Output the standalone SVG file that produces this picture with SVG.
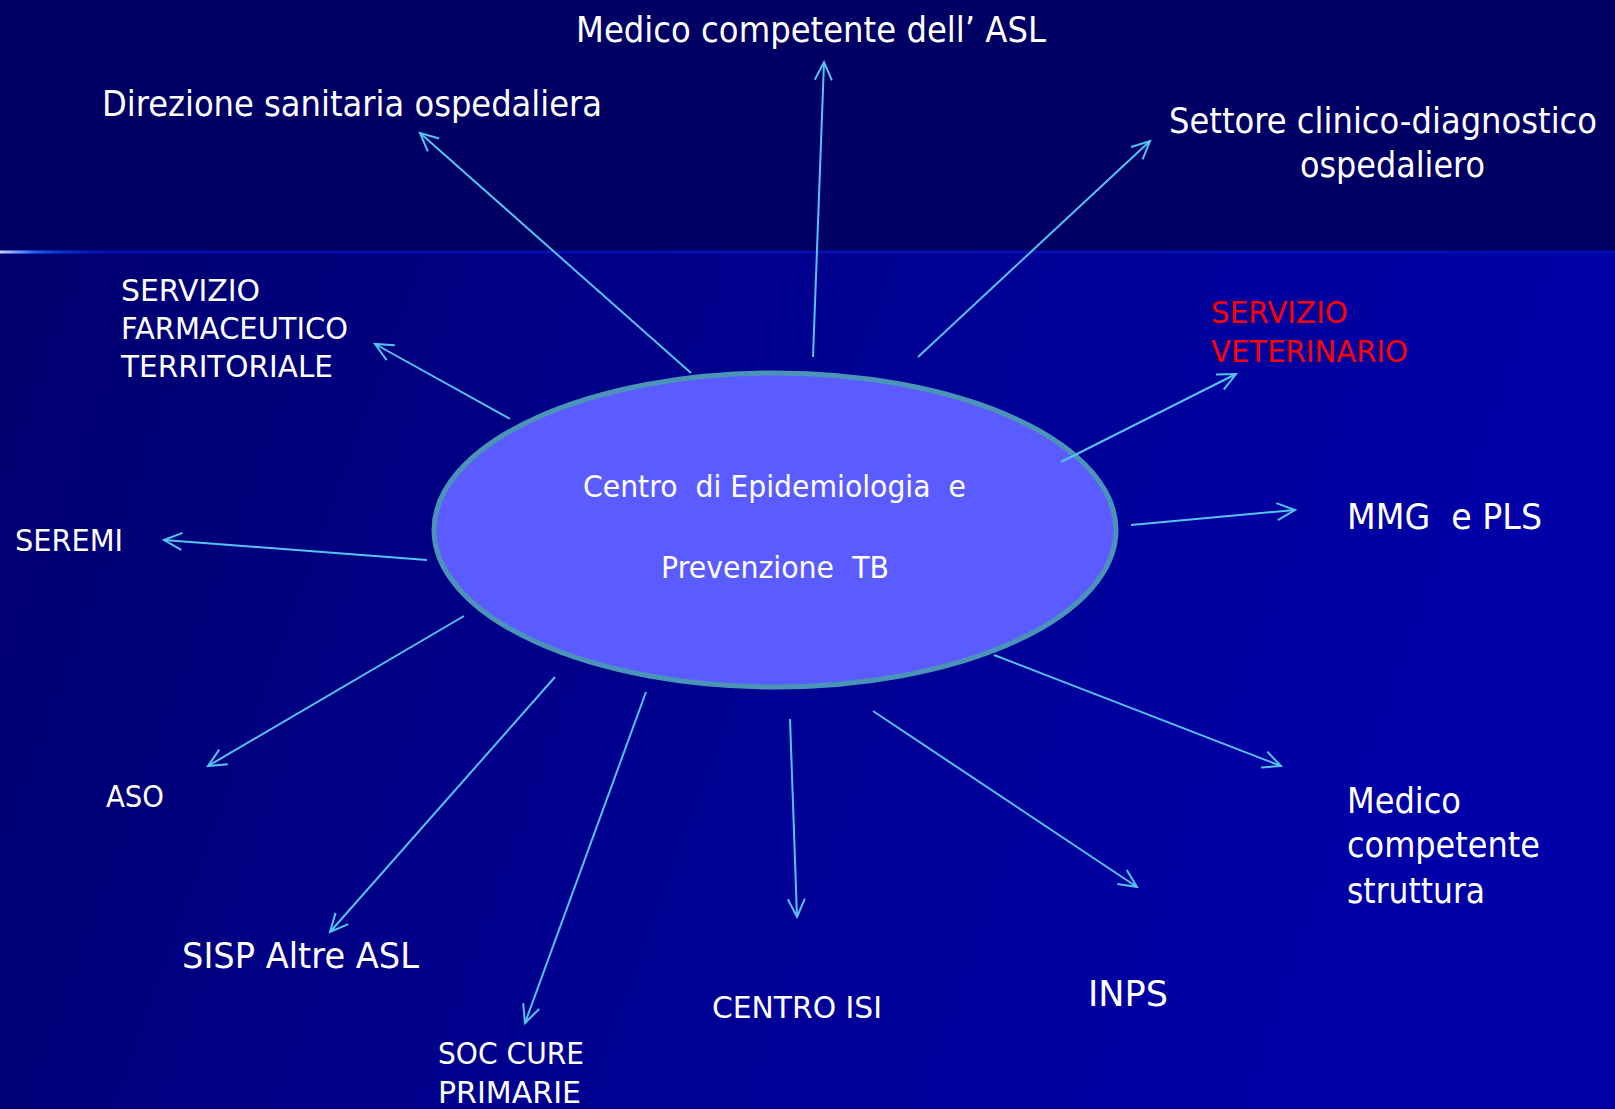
<svg xmlns="http://www.w3.org/2000/svg" width="1615" height="1109" viewBox="0 0 1615 1109">
  <defs>
    <linearGradient id="bgLow" x1="0" y1="0" x2="1" y2="0.25">
      <stop offset="0" stop-color="#00006a"/>
      <stop offset="0.45" stop-color="#00008a"/>
      <stop offset="1" stop-color="#0000a8"/>
    </linearGradient>
    <linearGradient id="glow" x1="0" y1="0" x2="1" y2="0">
      <stop offset="0" stop-color="#c8d4ff"/>
      <stop offset="0.25" stop-color="#3a78ff"/>
      <stop offset="0.3" stop-color="#1e5cf0"/>
      <stop offset="1" stop-color="#0010b0" stop-opacity="0"/>
    </linearGradient>
    <marker id="arrow" markerUnits="userSpaceOnUse" markerWidth="22" markerHeight="22" refX="19" refY="10" orient="auto">
      <path d="M1,1.5 L19,10 L1,18.5" fill="none" stroke="#55c3f2" stroke-width="2"/>
    </marker>
    <style>
      .t { fill: #ffffff; font-family: "DejaVu Sans", "Liberation Sans", sans-serif; white-space: pre; }
      .big { font-size: 36px; }
      .small { font-size: 30px; }
      .red { fill: #ff0000; }
      .conn { stroke: #55c3f2; stroke-width: 2; fill: none; marker-end: url(#arrow); }
    </style>
  </defs>

  <!-- background -->
  <rect x="0" y="0" width="1615" height="1109" fill="url(#bgLow)"/>
  <rect x="0" y="0" width="1615" height="251" fill="#000064"/>
  <rect x="0" y="250.5" width="1615" height="3" fill="#0010b0"/>
  <rect x="0" y="250.5" width="115" height="3" fill="url(#glow)"/>

  <!-- central node -->
  <g id="centro">
    <ellipse cx="775" cy="530" rx="341" ry="157" fill="#5b5cff" stroke="#4a94b8" stroke-width="5"/>
    <text class="t small" x="583" y="497" textLength="383" lengthAdjust="spacingAndGlyphs">Centro  di Epidemiologia  e</text>
    <text class="t small" x="661" y="578" textLength="228" lengthAdjust="spacingAndGlyphs">Prevenzione  TB</text>
  </g>

  <!-- connectors -->
  <g id="connectors">
    <line class="conn" x1="691" y1="373" x2="420" y2="133"/>
    <line class="conn" x1="813" y1="357" x2="824" y2="62"/>
    <line class="conn" x1="918" y1="357" x2="1150" y2="141"/>
    <line class="conn" x1="510" y1="419" x2="375" y2="344"/>
    <line class="conn" x1="1061" y1="462" x2="1236" y2="374"/>
    <line class="conn" x1="427" y1="560" x2="164" y2="540"/>
    <line class="conn" x1="1131" y1="525" x2="1295" y2="510"/>
    <line class="conn" x1="464" y1="616" x2="208" y2="766"/>
    <line class="conn" x1="994" y1="655" x2="1281" y2="766"/>
    <line class="conn" x1="555" y1="677" x2="330" y2="932"/>
    <line class="conn" x1="646" y1="692" x2="525" y2="1023"/>
    <line class="conn" x1="790" y1="719" x2="797" y2="917"/>
    <line class="conn" x1="873" y1="711" x2="1137" y2="887"/>
  </g>

  <g id="medico-asl">
    <text class="t big" x="576" y="42" textLength="470" lengthAdjust="spacingAndGlyphs">Medico competente dell’ ASL</text>
  </g>
  <g id="direzione">
    <text class="t big" x="102" y="116" textLength="500" lengthAdjust="spacingAndGlyphs">Direzione sanitaria ospedaliera</text>
  </g>
  <g id="settore">
    <text class="t big" transform="translate(1169,133) scale(0.87,1)" x="0" y="0" textLength="492" lengthAdjust="spacingAndGlyphs">Settore clinico-diagnostico</text>
    <text class="t big" x="1300" y="177" textLength="185" lengthAdjust="spacingAndGlyphs">ospedaliero</text>
  </g>
  <g id="farmaceutico">
    <text class="t small" x="121" y="301" textLength="139" lengthAdjust="spacingAndGlyphs">SERVIZIO</text>
    <text class="t small" x="121" y="339" textLength="227" lengthAdjust="spacingAndGlyphs">FARMACEUTICO</text>
    <text class="t small" x="121" y="377" textLength="212" lengthAdjust="spacingAndGlyphs">TERRITORIALE</text>
  </g>
  <g id="veterinario">
    <text class="t small red" x="1211" y="323" textLength="137" lengthAdjust="spacingAndGlyphs">SERVIZIO</text>
    <text class="t small red" x="1211" y="362" textLength="197" lengthAdjust="spacingAndGlyphs">VETERINARIO</text>
  </g>
  <g id="seremi">
    <text class="t small" x="15" y="551" textLength="108" lengthAdjust="spacingAndGlyphs">SEREMI</text>
  </g>
  <g id="mmg-pls">
    <text class="t big" x="1347" y="529" textLength="195" lengthAdjust="spacingAndGlyphs">MMG  e PLS</text>
  </g>
  <g id="aso">
    <text class="t small" x="106" y="807" textLength="58" lengthAdjust="spacingAndGlyphs">ASO</text>
  </g>
  <g id="medico-struttura">
    <text class="t big" x="1347" y="813" textLength="114" lengthAdjust="spacingAndGlyphs">Medico</text>
    <text class="t big" x="1347" y="857" textLength="193" lengthAdjust="spacingAndGlyphs">competente</text>
    <text class="t big" x="1347" y="903" textLength="138" lengthAdjust="spacingAndGlyphs">struttura</text>
  </g>
  <g id="sisp">
    <text class="t big" x="182" y="968" textLength="237" lengthAdjust="spacingAndGlyphs">SISP Altre ASL</text>
  </g>
  <g id="soc">
    <text class="t small" x="438" y="1064" textLength="146" lengthAdjust="spacingAndGlyphs">SOC CURE</text>
    <text class="t small" x="438" y="1103" textLength="143" lengthAdjust="spacingAndGlyphs">PRIMARIE</text>
  </g>
  <g id="centro-isi">
    <text class="t small" x="712" y="1018" textLength="170" lengthAdjust="spacingAndGlyphs">CENTRO ISI</text>
  </g>
  <g id="inps">
    <text class="t big" x="1088" y="1006" textLength="80" lengthAdjust="spacingAndGlyphs">INPS</text>
  </g>
</svg>
